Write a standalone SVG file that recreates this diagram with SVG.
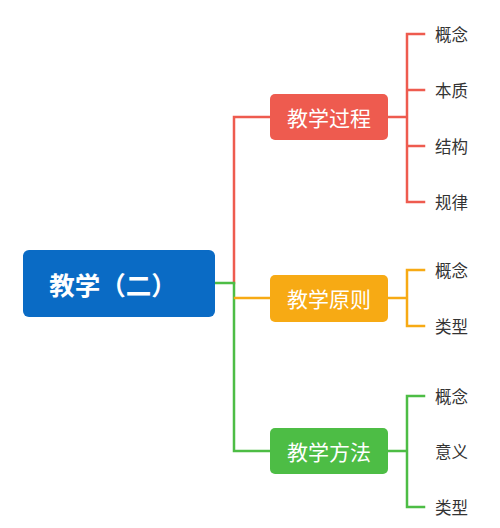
<svg xmlns="http://www.w3.org/2000/svg" width="500" height="528" viewBox="0 0 500 528">
<style>
.c{fill:none;stroke-width:2.5;stroke-linecap:square}
.r{stroke:#EE5B4F}.o{stroke:#F7AA14}.g{stroke:#4DBD45}
.bt{font-family:"Noto Sans CJK SC",sans-serif;fill:#fff;text-anchor:middle;dominant-baseline:central}
.lt{font-family:"Noto Sans CJK SC",sans-serif;fill:#333;font-size:16.5px;dominant-baseline:central}
</style>
<rect width="500" height="528" fill="#fff"/>
<g id="connectors">
<path class="c r" d="M234 117V283M234 117H270M388 117H407M407 34V202M407 34H424M407 90H424M407 146H424M407 202H424"/>
<path class="c g" d="M216 283H234V451H270M388 451H407M407 396V507M407 396H424M407 507H424"/>
<path class="c o" d="M235 298H270M388 298H407M407 270V326M407 270H424M407 326H424"/>
</g>
<g id="root"><rect x="23" y="250" width="192" height="67" rx="6" fill="#0A6BC5"/><text class="bt" x="113" y="283" font-size="25.5" font-weight="bold">教学（二）</text></g>
<g id="n1"><rect x="270" y="94" width="118" height="46" rx="5" fill="#EE5B4F"/><text class="bt" x="329" y="117" font-size="21">教学过程</text></g>
<g id="n2"><rect x="270" y="275" width="118" height="47" rx="5" fill="#F7AA14"/><text class="bt" x="329" y="298" font-size="21">教学原则</text></g>
<g id="n3"><rect x="270" y="428" width="118" height="46" rx="5" fill="#4DBD45"/><text class="bt" x="329" y="451" font-size="21">教学方法</text></g>
<g id="leaves1"><text class="lt" x="435" y="34">概念</text><text class="lt" x="435" y="90">本质</text><text class="lt" x="435" y="146">结构</text><text class="lt" x="435" y="202">规律</text></g>
<g id="leaves2"><text class="lt" x="435" y="270">概念</text><text class="lt" x="435" y="326">类型</text></g>
<g id="leaves3"><text class="lt" x="435" y="396">概念</text><text class="lt" x="435" y="451">意义</text><text class="lt" x="435" y="507">类型</text></g>
</svg>
